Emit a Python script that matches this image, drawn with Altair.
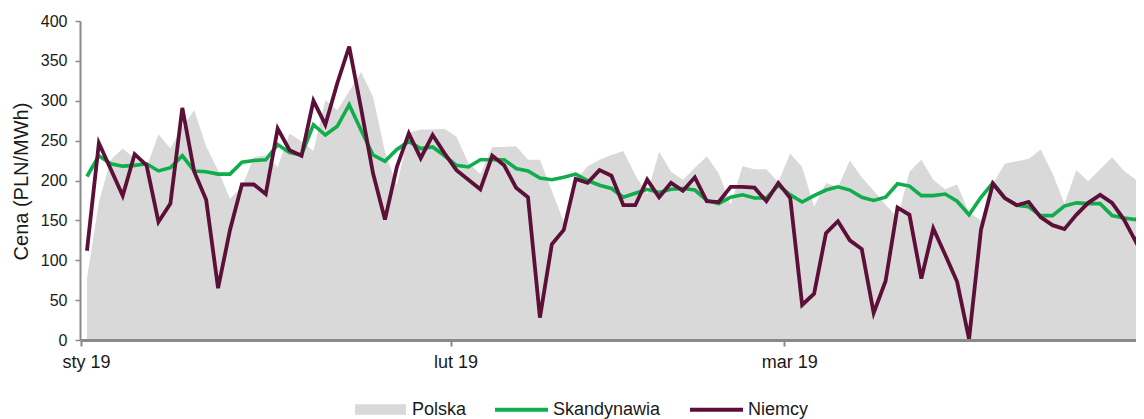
import altair as alt
import pandas as pd

# ---- data (daily, 1 Jan - 31 Mar 2019) ----
dates = pd.date_range("2019-01-01 12:00", periods=90, freq="D")

polska = [77, 173, 226, 240, 228, 216, 258, 240, 267, 288,
          243, 213, 177, 192, 229, 232, 217, 259, 249, 237,
          301, 288, 312, 336, 305, 236, 194, 260, 264, 264,
          265, 255, 222, 208, 242, 242, 243, 226, 226, 187,
          148, 200, 218, 226, 232, 237, 207, 183, 236, 211,
          201, 216, 230, 209, 170, 218, 214, 214, 198, 234,
          217, 167, 197, 192, 225, 204, 187, 170, 153, 211,
          226, 201, 189, 195, 160, 150, 196, 221, 224, 227,
          239, 209, 171, 213, 199, 214, 229, 212, 201, 155]

skandynawia = [205, 231, 221, 218, 219, 221, 212, 216, 231, 212,
               211, 208, 208, 223, 225, 226, 245, 235, 232, 270,
               257, 268, 295, 263, 232, 224, 239, 249, 240, 242,
               231, 219, 217, 226, 226, 226, 215, 212, 203, 201,
               204, 208, 200, 194, 190, 179, 184, 189, 185, 189,
               190, 188, 175, 171, 179, 182, 178, 178, 194, 182,
               173, 181, 188, 192, 188, 179, 175, 179, 196, 193,
               181, 181, 183, 174, 157, 179, 197, 178, 169, 167,
               156, 156, 168, 172, 171, 171, 156, 153, 151, 168]

niemcy = [112, 247, 214, 181, 233, 219, 148, 171, 291, 211,
          176, 65, 138, 195, 195, 183, 265, 238, 231, 300,
          270, 322, 368, 290, 209, 151, 217, 259, 228, 257,
          234, 213, 201, 189, 231, 219, 191, 179, 28, 120,
          138, 202, 197, 213, 206, 169, 169, 201, 179, 197,
          187, 204, 174, 173, 192, 192, 191, 174, 197, 178,
          44, 58, 134, 149, 125, 114, 34, 74, 166, 157,
          77, 140, 107, 73, 1, 138, 196, 178, 169, 173,
          154, 144, 139, 157, 172, 182, 172, 151, 123, 167]

series_names = ["Polska", "Skandynawia", "Niemcy"]
series_colors = ["#d9d9d9", "#10ad4b", "#5c0f38"]
month_labels = ["sty 19", "lut 19", "mar 19"]
y_ticks = [0, 50, 100, 150, 200, 250, 300, 350, 400]

rows = []
for name, vals in zip(series_names, [polska, skandynawia, niemcy]):
    for d, v in zip(dates, vals):
        rows.append({"date": d, "series": name, "value": v})
df = pd.DataFrame(rows)

FONT = "Liberation Sans"
TXT = "#1a1a1a"
AXC = "#898989"

label_expr = "[" + ",".join("'%s'" % m for m in month_labels) + "][month(datum.value)]"

x_enc = alt.X(
    "date:T",
    scale=alt.Scale(domain=[alt.DateTime(year=2018, month=12, date=31, hours=22),
                            alt.DateTime(year=2019, month=3, date=30, hours=12, minutes=10)]),
    axis=alt.Axis(
        title=None,
        values=[alt.DateTime(year=2019, month=m, date=1) for m in (1, 2, 3)],
        labelExpr=label_expr,
        labelFont=FONT, labelFontSize=18, labelColor=TXT,
        labelOffset=5, labelPadding=7, labelFlush=False, labelOverlap=False,
        labelBound=False,
        domainColor=AXC, domainWidth=3, tickColor=AXC, tickWidth=2, tickSize=6,
        grid=False, zindex=1,
    ),
)

y_enc = alt.Y(
    "value:Q",
    scale=alt.Scale(domain=[0, 400], nice=False, zero=True),
    axis=alt.Axis(
        title="Cena (PLN/MWh)",
        titleFont=FONT, titleFontSize=20, titleFontWeight="normal", titleColor=TXT,
        titleAngle=270, titleX=-59, titleY=160, titleAlign="center", titleBaseline="middle",
        values=y_ticks,
        labelFont=FONT, labelFontSize=16, labelColor=TXT, labelPadding=8,
        labelFlush=False,
        domainColor=AXC, domainWidth=2, tickColor=AXC, tickWidth=1.5, tickSize=5,
        grid=False,
    ),
)

base = alt.Chart(df)

area = base.transform_filter(alt.datum.series == "Polska").mark_area(clip=True).encode(
    x=x_enc,
    y=y_enc,
    fill=alt.Fill(
        "series:N",
        scale=alt.Scale(domain=series_names[:1], range=series_colors[:1]),
        legend=alt.Legend(
            orient="none", legendX=275, legendY=363, title=None, padding=0,
            symbolType="M-1,-0.21H1V0.21H-1Z", symbolSize=2601, symbolStrokeWidth=0,
            symbolOpacity=1,
            labelFont=FONT, labelFontSize=18, labelColor=TXT, labelOffset=6,
        ),
    ),
)

stroke_enc = alt.Stroke(
    "series:N",
    scale=alt.Scale(domain=series_names[1:], range=series_colors[1:]),
    legend=alt.Legend(
        orient="none", legendX=413, legendY=360, title=None, padding=0,
        direction="horizontal", columnPadding=21,
        symbolType="stroke", symbolSize=2809, symbolStrokeWidth=4,
        labelFont=FONT, labelFontSize=18, labelColor=TXT, labelOffset=3,
    ),
)

green = base.transform_filter(alt.datum.series == "Skandynawia").mark_line(
    clip=True, strokeWidth=3.6
).encode(x=x_enc, y=y_enc, stroke=stroke_enc)

red = base.transform_filter(alt.datum.series == "Niemcy").mark_line(
    clip=True, strokeWidth=3.8
).encode(x=x_enc, y=y_enc, stroke=stroke_enc)

chart = alt.layer(area, green, red).properties(
    width=1056,
    height=319,
    autosize=alt.AutoSizeParams(type="none"),
    padding={"left": 72, "top": 13, "right": 0, "bottom": 82},
    background="white",
).configure_view(stroke=None)

chart.save("out.html", embed_options={"renderer": "svg", "actions": False})
